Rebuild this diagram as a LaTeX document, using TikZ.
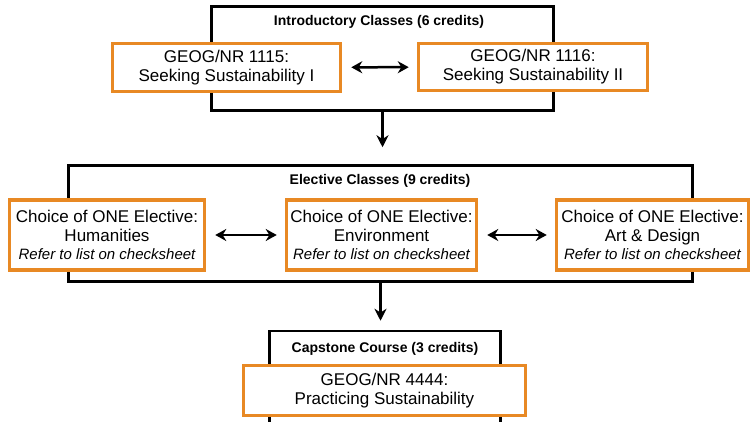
\documentclass[tikz,border=0pt]{standalone}
\usepackage{fontspec}
\setmainfont{Liberation Sans}
\usetikzlibrary{arrows.meta}
\definecolor{courseorange}{RGB}{232,137,36}

\begin{document}
\begin{tikzpicture}[x=1pt, y=-1pt,
  frame/.style={draw=black, line width=2.5pt, inner sep=0pt},
  course/.style={draw=courseorange, fill=white, line width=3.5pt, align=center,
    inner sep=0pt, font=\fontsize{17}{19}\selectfont},
  head/.style={font=\bfseries\fontsize{14}{16}\selectfont, inner sep=0pt},
  link/.style={line width=2.5pt, {Stealth[length=11pt,width=12pt]}-{Stealth[length=11pt,width=12pt]},
    shorten <=9pt, shorten >=8pt},
  flow/.style={line width=2.5pt, -{Stealth[length=12pt,width=12pt]}}]
\useasboundingbox (0,0) rectangle (753,422);
\clip (0,0) rectangle (753,422);
% block frames
\node[frame, minimum width=342pt, minimum height=104pt] (introframe) at (382.5,58.5) {};
\node[frame, minimum width=624pt, minimum height=116pt] (electframe) at (380.5,223.5) {};
\node[frame, minimum width=231pt, minimum height=140pt] (capframe) at (385,401) {};
% block headings
\node[head] (introhead) at (379,22) {Introductory Classes (6 credits)};
\node[head] (electhead) at (380,181) {Elective Classes (9 credits)};
\node[head] (caphead) at (385,349) {Capstone Course (3 credits)};
% introductory courses
\node[course, minimum width=228pt, minimum height=48pt] (geog1115) at (226.5,67.5)
  {GEOG/NR 1115:\\ Seeking Sustainability I};
\node[course, minimum width=229pt, minimum height=47pt] (geog1116) at (533,67)
  {GEOG/NR 1116:\\ Seeking Sustainability II};
\draw[link] (geog1115) -- (geog1116);
% elective choices
\foreach \nm/\cx/\w/\topic in {hum/107/195/Humanities,env/381.5/190/Environment,art/652.5/192/Art \& Design}{
  \node[course, minimum width=\w pt, minimum height=70pt] (\nm) at (\cx,235)
    {Choice of ONE Elective:\\ \topic\\[-1pt] \itshape\fontsize{15}{17}\selectfont Refer to list on checksheet};
}
\draw[link] (hum) -- (env);
\draw[link] (env) -- (art);
% capstone
\node[course, minimum width=282pt, minimum height=50pt] (geog4444) at (384.5,390.5)
  {GEOG/NR 4444:\\ Practicing Sustainability};
% flow between blocks
\draw[flow, shorten >=17pt] (introframe.south) -- (introframe.south |- electframe.north);
\draw[flow, shorten >=9pt] (electframe.south) -- (electframe.south |- capframe.north);
\end{tikzpicture}
\end{document}
